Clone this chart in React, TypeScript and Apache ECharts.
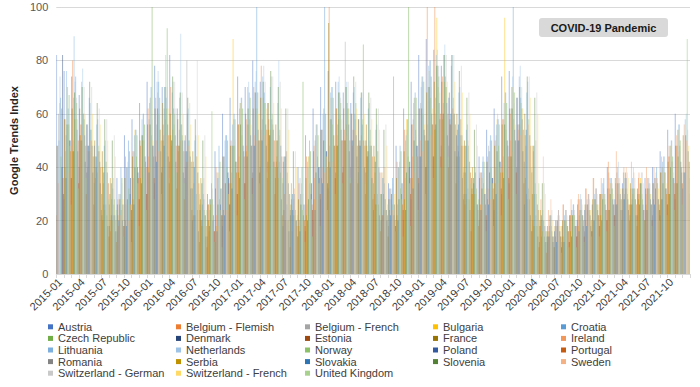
import React, { useEffect, useRef } from "react";
import * as echarts from "echarts";

const months: string[] = [];
for (let y = 2015; y <= 2021; y++) {
  for (let m = 1; m <= 12; m++) months.push(`${y}-${m < 10 ? "0" + m : m}`);
}

const austria = [38,82,76,74,67,56,48,22,18,36,52,58, 64,72,78,70,82,62,50,20,24,30,46,60, 66,74,70,80,72,64,36,18,22,40,52,62, 70,76,72,68,64,58,50,24,20,34,48,62, 72,82,88,84,78,66,52,30,36,44,54,62, 74,76,66,26,16,12,14,16,18,22,20,24, 26,30,40,28,34,26,32,36,40,46,54,60];
const belgiumFlemish = [30,48,58,80,52,40,36,20,16,28,44,46, 48,62,66,56,70,46,40,22,20,26,40,44, 50,56,58,70,78,58,42,24,28,34,44,48, 54,100,62,54,60,50,44,30,22,32,42,54, 56,62,100,100,74,56,44,26,30,38,44,50, 58,60,56,36,20,18,14,20,26,22,28,32, 36,30,42,34,38,32,36,30,34,38,44,48];
const belgiumFrench = [42,60,52,66,56,48,40,26,22,30,40,46, 52,58,56,62,50,54,80,22,20,28,38,44, 48,62,56,68,58,52,40,20,24,36,42,50, 54,58,56,87,54,50,44,26,22,32,40,50, 58,64,70,66,64,56,46,30,34,38,48,52, 58,62,56,30,18,14,16,18,20,24,22,26, 28,30,32,38,30,28,30,32,36,40,44,48];
const bulgaria = [52,64,70,58,50,46,38,24,20,30,40,54, 50,66,68,58,54,50,42,22,18,26,38,52, 88,64,56,62,66,54,36,20,22,30,44,56, 62,66,58,56,54,52,46,26,24,30,40,58, 66,74,76,96,72,60,44,28,30,36,46,58, 96,70,56,28,18,16,14,18,20,22,20,24, 28,30,34,30,32,30,36,32,36,40,48,54];
const croatia = [74,66,62,74,60,54,46,26,22,40,50,54, 60,70,72,66,62,56,50,30,28,34,48,52, 60,66,68,100,68,58,42,26,30,40,50,56, 100,70,68,64,60,56,48,30,28,36,48,58, 68,74,80,78,74,62,52,32,38,44,52,58, 68,100,66,32,22,20,22,24,24,26,28,30, 32,36,36,34,36,32,34,34,40,44,50,56];
const czechRepublic = [78,62,67,64,58,50,46,22,28,36,46,52, 56,100,66,92,60,52,46,24,22,28,42,50, 58,62,66,68,64,56,38,20,24,72,46,52, 60,66,64,62,64,86,48,26,24,74,46,100, 66,72,74,74,70,60,48,28,32,42,50,56, 64,68,62,28,18,14,16,16,18,22,22,24, 26,30,32,28,30,28,28,30,34,38,44,50];
const denmark = [30,82,50,46,42,38,34,18,16,26,36,38, 42,48,46,44,42,38,32,16,14,22,32,36, 42,46,48,50,48,42,28,16,20,26,34,40, 46,48,50,46,44,40,36,22,20,26,34,42, 48,52,56,58,52,46,36,24,26,30,36,42, 48,50,46,22,14,12,12,14,16,18,18,18, 22,24,26,24,24,22,24,26,28,32,36,40];
const estonia = [22,30,36,34,30,26,24,14,12,18,24,28, 30,36,38,34,32,28,24,12,10,16,22,26, 30,34,36,38,36,30,22,10,14,18,24,30, 34,36,38,34,34,30,28,16,14,18,24,30, 36,40,44,44,40,34,28,16,18,22,28,32, 36,38,34,16,10,8,10,10,12,14,14,16, 18,20,22,20,20,18,20,20,24,26,30,34];
const france = [48,58,62,62,56,50,46,30,26,36,44,50, 56,62,64,60,58,52,46,28,26,32,44,48, 56,60,62,66,64,56,42,26,28,36,46,54, 94,62,62,60,58,56,48,30,28,36,46,56, 62,68,72,72,68,60,50,32,36,42,48,56, 62,66,60,30,20,18,18,20,22,26,26,28, 30,32,36,32,34,30,32,34,38,42,48,52];
const ireland = [34,46,50,56,46,40,34,20,18,26,36,40, 44,50,52,48,48,42,34,18,16,22,34,38, 44,48,52,54,52,44,30,16,20,26,36,40, 48,52,50,48,48,44,38,22,20,26,36,44, 50,56,60,60,56,48,38,24,26,32,40,44, 50,54,48,46,28,24,20,26,28,30,32,36, 36,38,46,40,42,38,40,40,44,48,52,56];
const lithuania = [50,76,89,72,66,56,48,28,26,40,52,58, 64,72,70,68,66,60,50,26,24,36,50,56, 64,70,72,74,70,64,44,24,30,40,52,60, 68,72,70,68,66,62,54,30,28,40,52,64, 70,78,82,82,78,68,54,34,38,46,56,64, 70,74,68,30,20,18,20,22,24,28,28,30, 34,36,40,36,36,34,36,36,42,48,54,58];
const netherlands = [74,70,72,77,64,58,50,32,30,42,54,60, 66,76,82,72,90,62,52,30,28,36,52,58, 66,72,76,78,74,80,46,28,34,44,56,62, 70,74,72,70,68,64,56,34,32,42,54,66, 72,80,84,86,82,70,56,38,42,50,60,68, 74,78,72,34,24,22,22,24,26,30,30,32, 34,36,42,36,40,34,36,38,44,50,56,60];
const norway = [44,56,58,60,54,48,42,26,24,32,44,50, 52,60,62,56,56,50,44,24,61,28,40,48, 52,58,62,64,60,54,38,22,24,34,44,50, 56,60,62,58,58,54,46,28,26,32,44,54, 60,66,70,70,66,58,48,30,34,40,48,54, 58,64,58,30,20,18,18,20,22,24,24,26, 28,32,34,32,32,30,32,34,38,42,48,88];
const poland = [40,50,54,52,48,42,38,22,20,30,40,44, 48,54,56,52,50,44,38,22,20,26,38,42, 48,52,54,56,54,48,34,20,22,30,40,46, 52,54,56,52,50,48,40,24,22,30,40,48, 54,60,64,64,60,52,42,26,30,36,42,50, 54,58,52,26,18,14,16,18,18,22,22,24, 26,28,30,28,28,26,28,28,32,36,42,46];
const portugal = [36,46,50,48,44,40,34,20,18,26,36,40, 44,50,52,48,46,42,34,18,16,22,34,38, 44,48,50,54,50,44,30,18,20,26,36,40, 48,50,50,48,48,44,38,22,20,26,36,44, 50,56,60,60,56,48,38,24,26,32,38,44, 50,54,48,24,16,14,14,16,18,20,20,22, 24,26,28,26,26,24,26,26,30,34,38,42];
const romania = [28,36,40,38,34,30,26,16,14,20,28,30, 34,40,42,38,36,32,26,14,12,18,26,30, 34,38,40,42,40,34,24,14,16,20,28,32, 38,40,40,38,38,34,30,18,16,20,28,34, 40,44,48,48,44,38,30,20,20,24,30,34, 40,42,38,18,12,10,12,12,14,16,16,18, 20,22,24,22,22,20,22,22,26,28,32,36];
const serbia = [40,46,52,48,44,40,36,22,20,28,36,40, 44,50,52,48,46,42,36,20,18,24,34,38, 46,48,50,54,50,44,34,18,22,28,36,42, 48,50,50,48,48,44,38,24,22,28,36,44, 50,54,58,58,54,48,40,26,28,34,38,44, 50,52,48,24,16,14,14,16,18,20,20,22, 24,26,28,26,28,26,28,28,30,34,38,42];
const slovakia = [36,46,50,48,44,38,34,20,18,26,34,38, 42,48,50,48,46,40,34,18,16,22,32,36, 44,48,50,52,50,44,30,16,20,24,34,40, 48,50,50,48,46,42,36,22,20,24,32,44, 50,56,60,60,56,48,36,24,26,30,36,44, 50,54,48,22,14,12,12,14,16,18,20,20, 24,26,28,26,26,24,26,28,30,34,38,42];
const slovenia = [56,68,70,72,64,58,50,28,28,40,52,56, 62,70,74,68,66,58,50,28,26,34,48,56, 62,68,72,76,70,62,46,26,28,38,50,58, 68,70,74,68,68,62,54,30,28,38,50,62, 70,78,82,82,76,66,54,32,38,46,56,62, 70,74,66,34,22,20,20,22,24,26,28,28, 30,34,38,32,34,32,32,34,40,44,52,56];
const sweden = [38,48,52,50,46,42,36,22,20,28,38,40, 46,52,54,50,48,44,36,20,18,24,36,40, 46,50,52,56,52,46,32,20,22,28,38,42, 50,52,54,50,50,46,40,24,22,28,38,46, 52,58,62,62,58,50,40,26,28,34,40,46, 52,56,50,44,28,24,24,26,28,30,32,32, 34,36,40,38,38,36,36,38,42,46,50,54];
const switzerlandGerman = [56,66,70,70,62,58,52,34,30,40,52,58, 62,70,72,68,64,80,52,32,28,36,50,56, 62,68,72,74,72,62,46,30,34,40,52,60, 66,72,72,68,66,62,56,34,32,40,52,62, 70,78,82,82,78,68,56,38,40,46,56,64, 70,74,68,34,24,22,22,24,26,28,30,30, 34,36,38,36,38,34,36,38,42,46,54,58];
const switzerlandFrench = [48,58,60,60,56,50,44,28,26,34,44,50, 54,62,62,60,56,52,44,26,24,30,42,48, 56,60,62,64,62,54,40,24,28,34,44,52, 58,62,62,60,58,54,48,30,28,34,44,56, 62,68,72,72,68,60,48,32,34,40,48,56, 62,66,60,30,20,18,18,20,22,24,26,28, 30,32,36,32,34,30,32,34,38,42,48,100];
const unitedKingdom = [26,32,36,34,30,28,24,14,12,18,24,28, 30,36,38,34,32,30,24,12,10,16,22,28, 30,34,38,40,36,30,22,12,14,18,24,30, 34,36,38,34,34,30,26,16,14,18,24,30, 36,40,44,44,40,34,28,16,18,22,28,30, 36,40,34,16,10,8,10,10,12,14,14,16, 18,20,22,20,20,18,20,22,24,26,30,34];

const countries = [
  "Austria", "Belgium - Flemish", "Belgium - French", "Bulgaria", "Croatia",
  "Czech Republic", "Denmark", "Estonia", "France", "Ireland",
  "Lithuania", "Netherlands", "Norway", "Poland", "Portugal",
  "Romania", "Serbia", "Slovakia", "Slovenia", "Sweden",
  "Switzerland - German", "Switzerland - French", "United Kingdom",
];
const seriesValues = [
  austria, belgiumFlemish, belgiumFrench, bulgaria, croatia,
  czechRepublic, denmark, estonia, france, ireland,
  lithuania, netherlands, norway, poland, portugal,
  romania, serbia, slovakia, slovenia, sweden,
  switzerlandGerman, switzerlandFrench, unitedKingdom,
];
const colors = [
  "#4472C4", "#ED7D31", "#A5A5A5", "#FFC000", "#5B9BD5",
  "#70AD47", "#264478", "#9E480E", "#997300", "#F1975A",
  "#7CAFDD", "#9DC3E6", "#8CC168", "#335AA1", "#C55A11",
  "#848484", "#BF9000", "#2E75B6", "#548235", "#F4B183",
  "#C9C9C9", "#FFD966", "#A9D18E",
];
const yTicks = { min: 0, max: 100, interval: 20 };
const annotation = "COVID-19 Pandemic";
const yTitle = "Google Trends Index";

const FONT = "'Liberation Sans', Arial, sans-serif";

export default function App() {
  const ref = useRef<HTMLDivElement>(null);
  useEffect(() => {
    if (!ref.current) return;
    const chart = echarts.init(ref.current, null, { renderer: "svg" });
    const colLefts = [48, 176, 305, 433, 561];
    const legends = colLefts.map((left, c) => ({
      orient: "vertical",
      left,
      top: 321,
      itemWidth: 5,
      itemHeight: 5,
      itemGap: 0,
      icon: "rect",
      padding: 0,
      itemStyle: { opacity: 1 },
      textStyle: { fontFamily: FONT, fontSize: 11, color: "#404040", lineHeight: 11.6 },
      data: countries
        .map((name, i) => ({ name, i }))
        .filter((d) => d.i % 5 === c)
        .map((d) => ({ name: d.name, itemStyle: { color: colors[d.i], opacity: 1 } })),
    }));
    chart.setOption({
      animation: false,
      color: colors,
      textStyle: { fontFamily: FONT },
      grid: { left: 43, right: 10, top: 7, bottom: 113, containLabel: false },
      legend: legends,
      xAxis: {
        type: "category",
        data: months,
        axisLine: { lineStyle: { color: "#d9d9d9" } },
        axisTick: { show: true, interval: 0, length: 4, lineStyle: { color: "#d9d9d9" } },
        axisLabel: { interval: 2, rotate: 45, fontSize: 11, color: "#404040", fontFamily: FONT, margin: 6 },
      },
      yAxis: {
        type: "value",
        min: yTicks.min,
        max: yTicks.max,
        interval: yTicks.interval,
        name: yTitle,
        nameLocation: "middle",
        nameGap: 36,
        nameTextStyle: { fontFamily: FONT, fontSize: 11, fontWeight: "bold", color: "#262626" },
        axisLine: { show: false },
        axisTick: { show: false },
        splitLine: { lineStyle: { color: "#d9d9d9" } },
        axisLabel: { fontSize: 11, color: "#595959", fontFamily: FONT },
      },
      series: countries.map((name, i) => ({
        name,
        type: "bar",
        data: seriesValues[i],
        barGap: "0%",
        barCategoryGap: "8%",
        itemStyle: { color: colors[i], opacity: 0.45 },
      })),
      graphic: [
        {
          type: "group",
          left: 539,
          top: 18,
          children: [
            { type: "rect", shape: { x: 0, y: 0, width: 129, height: 19, r: 3 }, style: { fill: "#d9d9d9" } },
            {
              type: "text",
              x: 64.5,
              y: 9.5,
              style: {
                text: annotation,
                fontFamily: FONT,
                fontSize: 11,
                fontWeight: "bold",
                fill: "#1a1a1a",
                align: "center",
                verticalAlign: "middle",
              },
            },
          ],
        },
      ],
    });
    return () => chart.dispose();
  }, []);
  return <div ref={ref} style={{ width: 700, height: 387, position: "absolute", left: 0, top: 0 }} />;
}
